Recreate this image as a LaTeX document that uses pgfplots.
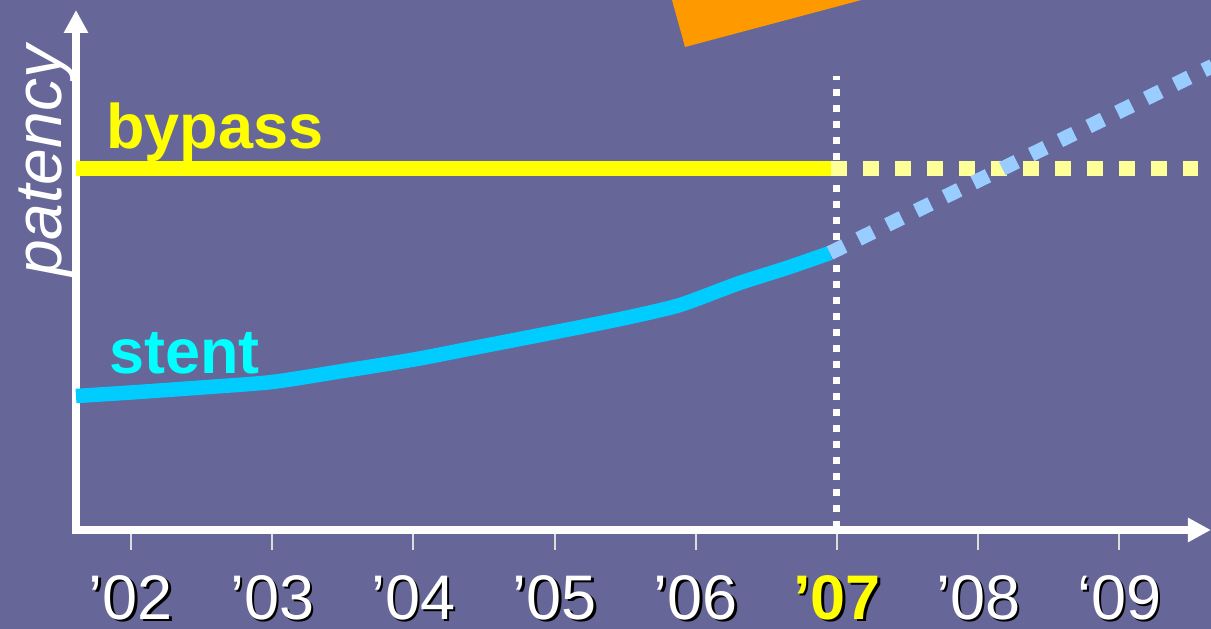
\documentclass[border=0pt]{standalone}
\usepackage{pgfplots}
\pgfplotsset{compat=1.18}
\usepackage{fontspec}
\setmainfont{Liberation Sans}
\usetikzlibrary{arrows.meta}

\definecolor{slidebg}{HTML}{666699}
\definecolor{bypasscol}{HTML}{FFFF00}
\definecolor{bypassfut}{HTML}{FFFF99}
\definecolor{stentcol}{HTML}{00CCFF}
\definecolor{stentfut}{HTML}{99CCFF}
\definecolor{stentlbl}{HTML}{00FFFF}
\definecolor{arrowcol}{HTML}{FF9900}
\definecolor{tickcol}{HTML}{DDDDDD}

% text with a dark drop shadow
\newcommand\shadowed[2][white]{\rlap{\hspace{2.5bp}\raisebox{-2.5bp}{\color{black}#2}}{\color{#1}#2}}

\begin{document}
\begin{tikzpicture}
\useasboundingbox (0,0) rectangle (1211bp,629bp);
\fill[slidebg] (0,0) rectangle (1211bp,629bp);
\clip (0,0) rectangle (1211bp,629bp);
\begin{axis}[
  at={(76bp,99bp)}, anchor=south west,
  scale only axis, width=1135bp, height=520bp,
  xmin=2001.6105, xmax=2009.6487, ymin=0, ymax=520,
  axis lines=left,
  axis line style={white, line width=7bp, line cap=rect,
    -{Triangle[width=23bp,length=23bp]}},
  ytick=\empty,
  xtick={2002,2003,2004,2005,2006,2007,2008,2009},
  xticklabels={{\shadowed{’02}},{\shadowed{’03}},{\shadowed{’04}},
    {\shadowed{’05}},{\shadowed{’06}},{\bfseries\shadowed[bypasscol]{’07}},
    {\shadowed{’08}},{\shadowed{‘09}}},
  tick align=outside, major tick length=20bp,
  x tick style={color=tickcol, line width=2bp},
  xticklabel style={anchor=north, inner sep=0pt, yshift=-25bp,
    font=\fontsize{63bp}{70bp}\selectfont},
  clip=false,
]
% big orange arrow reaching in from the top
\addplot[draw=none, fill=arrowcol] coordinates
  {(2005.773,560) (2005.924,483) (2007.97,560)} -- cycle;

% today marker
\addplot[white, line width=7bp, dash pattern=on 6.5bp off 9.5bp]
  coordinates {(2007,2) (2007,454)};

% bypass: observed, then projected
\addplot[bypasscol, line width=15bp] coordinates
  {(2001.6105,361.5) (2006.957,361.5)};
\addplot[bypassfut, line width=15bp, dash pattern=on 16bp off 16bp] coordinates
  {(2006.957,361.5) (2009.56,361.5)};

% stent: observed, then projected
\addplot[stentcol, line width=14.5bp, smooth, tension=0.4] coordinates {
  (2001.6105,134) (2002,137.5) (2002.5,142.5) (2003,148) (2003.5,159)
  (2004,170.4) (2004.472,183.3) (2005,197.8) (2005.5,212) (2005.888,225)
  (2006.3,246.5) (2006.643,262) (2006.95,277)};
\addplot[stentfut, line width=14.5bp, dash pattern=on 16bp off 16bp] coordinates
  {(2006.95,277) (2008,349.5) (2009,418.5) (2009.66,464)};

\node[anchor=base west, inner sep=0pt, text=bypasscol,
  font=\fontsize{63bp}{70bp}\selectfont\bfseries] at (axis cs:2001.823,382) {bypass};
\node[anchor=base west, inner sep=0pt, text=stentlbl,
  font=\fontsize{63bp}{70bp}\selectfont\bfseries] at (axis cs:2001.844,157) {stent};
\node[rotate=90, anchor=base west, inner sep=0pt, text=white,
  font=\fontsize{66bp}{72bp}\selectfont\itshape] at (axis cs:2001.51,253) {patency};
\end{axis}
\end{tikzpicture}
\end{document}
